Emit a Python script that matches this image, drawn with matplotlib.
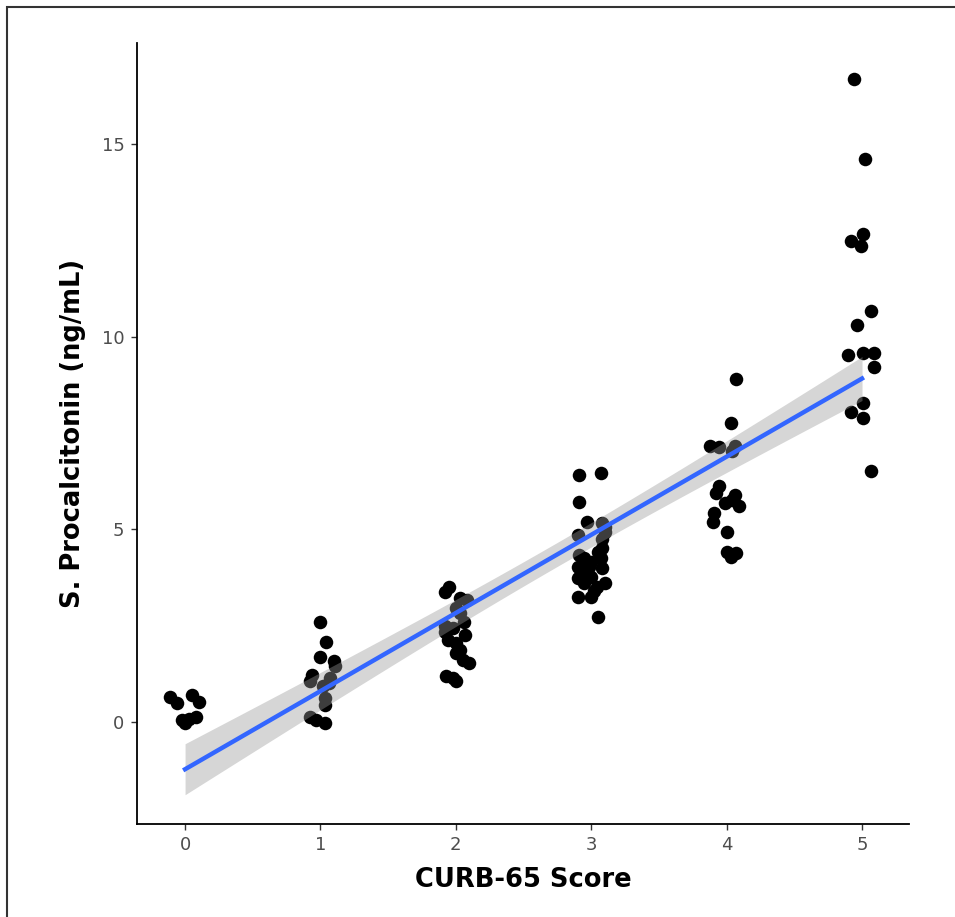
import numpy as np
import matplotlib
matplotlib.use("Agg")
import matplotlib.pyplot as plt
from matplotlib.patches import Rectangle

## data (score, jitter offset, procalcitonin)
score0_jit = [-0.11, -0.06, 0.05, 0.10, -0.02, 0.03, 0.08, 0.00]
score0_val = [0.64, 0.50, 0.70, 0.51, 0.05, 0.07, 0.14, -0.02]

score1_jit = [0.00, 0.04, 0.00, 0.10, 0.11, -0.06, 0.07, -0.08, 0.02, 0.03, 0.03, -0.08, -0.03, 0.03, 0.06]
score1_val = [2.60, 2.08, 1.68, 1.57, 1.45, 1.22, 1.13, 1.05, 0.92, 0.62, 0.45, 0.14, 0.05, -0.03, 1.00]

score2_jit = [-0.08, -0.05, 0.03, 0.08, 0.00, 0.03, -0.08, -0.02, 0.06, 0.07, -0.06, 0.00, 0.03, 0.00, 0.05, 0.10, -0.07, -0.02, 0.00, -0.08]
score2_val = [3.38, 3.51, 3.21, 3.17, 2.95, 2.82, 2.34, 2.43, 2.60, 2.26, 2.13, 2.04, 1.87, 1.78, 1.61, 1.52, 1.18, 1.13, 1.05, 2.50]

score3_jit = [-0.09, 0.07, -0.09, -0.03, 0.08, 0.10, -0.10, 0.10, 0.08, 0.08, -0.09, -0.05, 0.07, -0.10,
              -0.02, 0.08, -0.10, 0.00, 0.10, -0.05, 0.04, -0.10, 0.00, 0.05, 0.00, 0.05, -0.06, 0.02]
score3_val = [6.41, 6.45, 5.72, 5.20, 5.15, 5.05, 4.85, 4.94, 4.75, 4.51, 4.33, 4.25, 4.25, 4.03,
              4.03, 3.99, 3.73, 3.77, 3.60, 3.60, 3.51, 3.25, 3.25, 2.73, 4.15, 4.40, 3.90, 3.40]

score4_jit = [0.07, 0.03, -0.12, -0.06, 0.06, 0.04, -0.06, -0.08, 0.06, -0.01, 0.09, 0.04, -0.09, -0.10, 0.00, 0.00, 0.07, 0.03]
score4_val = [8.89, 7.75, 7.15, 7.13, 7.15, 7.02, 6.11, 5.93, 5.89, 5.68, 5.61, 5.76, 5.42, 5.20, 4.94, 4.42, 4.38, 4.29]

score5_jit = [-0.06, 0.02, 0.01, -0.08, -0.01, 0.07, -0.04, -0.10, 0.01, 0.09, 0.09, 0.01, -0.08, 0.01, 0.07]
score5_val = [16.69, 14.60, 12.67, 12.47, 12.34, 10.67, 10.30, 9.52, 9.57, 9.58, 9.20, 8.27, 8.05, 7.88, 6.50]

scores = [0, 1, 2, 3, 4, 5]
jitters = [score0_jit, score1_jit, score2_jit, score3_jit, score4_jit, score5_jit]
values = [score0_val, score1_val, score2_val, score3_val, score4_val, score5_val]

x = np.concatenate([[s] * len(v) for s, v in zip(scores, values)]).astype(float)
xj = np.concatenate([np.array(j) + s for s, j in zip(scores, jitters)])
y = np.concatenate(values)

# linear fit with 95% confidence band (like geom_smooth(method="lm"))
n = len(x)
slope, icpt = np.polyfit(x, y, 1)
resid = y - (icpt + slope * x)
sigma = np.sqrt(np.sum(resid ** 2) / (n - 2))
xs = np.linspace(x.min(), x.max(), 80)
se = sigma * np.sqrt(1.0 / n + (xs - x.mean()) ** 2 / np.sum((x - x.mean()) ** 2))
tval = 1.984
fit = icpt + slope * xs

fig = plt.figure(figsize=(9.55, 9.17), dpi=100)
ax = fig.add_axes([137 / 955, 1 - 824 / 917, (909 - 137) / 955, (824 - 43) / 917])

ax.scatter(xj, y, s=95, color="black", linewidths=0, zorder=2)
ax.fill_between(xs, fit - tval * se, fit + tval * se, color="#999999", alpha=0.4, linewidth=0, zorder=3)
ax.plot(xs, fit, color="#3366FF", lw=3.2, zorder=4)

ax.set_xlim(-0.355, 5.347)
ax.set_ylim(-2.65, 17.62)
ax.set_xticks(scores)
ax.set_yticks([0, 5, 10, 15])

for side in ["top", "right"]:
    ax.spines[side].set_visible(False)
for side in ["left", "bottom"]:
    ax.spines[side].set_linewidth(1.3)
    ax.spines[side].set_color("black")
ax.tick_params(axis="both", length=4, width=1.0, color="#333333", labelcolor="#4d4d4d", labelsize=13, pad=5)

ax.set_xlabel("CURB-65 Score", fontsize=18.5, fontweight="bold", labelpad=9)
ax.set_ylabel("S. Procalcitonin (ng/mL)", fontsize=18.5, fontweight="bold", labelpad=11)

# thin frame of the original screenshot
fig.patches.append(Rectangle((7 / 955, -0.1), 1.2, 1.1 - 7 / 917, transform=fig.transFigure,
                             fill=False, edgecolor="#333333", linewidth=1.5))

fig.savefig("out.png", dpi=100, facecolor="white")
